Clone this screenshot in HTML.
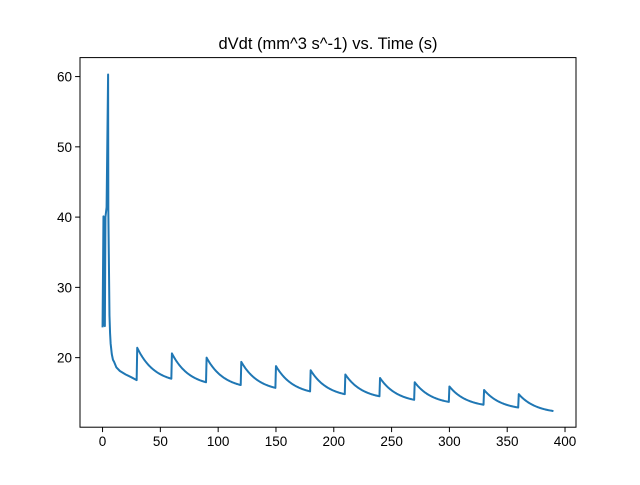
<!DOCTYPE html>
<html><head><meta charset="utf-8"><style>
body{margin:0;background:#fff}
svg text{font-family:"Liberation Sans","DejaVu Sans",sans-serif}
</style></head><body>
<svg id="c" width="640" height="480">
<rect x="0" y="0" width="640" height="480" fill="#fff"/>
<text x="328" y="49" text-anchor="middle" font-size="16.5">dVdt (mm^3 s^-1) vs. Time (s)</text>
<g id="plot"></g>
<rect x="80" y="57.6" width="496" height="369.6" fill="none" stroke="#000" stroke-width="1"/>
<g id="ax"></g>
</svg>
<script>
const earlyT=[0,0.8,1.2,2,2.5,3.5,4.8,5,6,6.5,7,8,9,10,12,15,20,25,29.5];
const earlyV=[24.3,40.1,24.6,24.5,40,41.4,60.3,41,26,23.5,22,20.5,19.7,19.4,18.6,18.1,17.6,17.2,16.8];
const cycleStart=[30,60,90,120,150,180,210,240,270,300,330,360];
const peakV=[21.4,20.6,20.0,19.4,18.8,18.2,17.6,17.1,16.5,15.9,15.4,14.8];
const troughV=[17.0,16.5,16.1,15.7,15.2,14.8,14.5,14.0,13.7,13.3,12.9,12.4];
const xTicks=[0,50,100,150,200,250,300,350,400];
const yTicks=[20,30,40,50,60];
const X0=80,X1=576,Y0=427.2,Y1=57.6,xmin=-19.5,xmax=409.5,ymin=10.1,ymax=62.7;
const sx=v=>X0+(v-xmin)/(xmax-xmin)*(X1-X0);
const sy=v=>Y0-(v-ymin)/(ymax-ymin)*(Y0-Y1);
const NS="http://www.w3.org/2000/svg";
const TAU=15;
let pts=[];
earlyT.forEach((t,i)=>pts.push([t,earlyV[i]]));
cycleStart.forEach((s,i)=>{
  const end=(i<cycleStart.length-1)?29.5:30;
  const pk=peakV[i],tr=troughV[i];
  const eEnd=Math.exp(-end/TAU);
  for(let d=0;d<=end+1e-9;d+=0.5){
    const f=(Math.exp(-d/TAU)-eEnd)/(1-eEnd);
    pts.push([s+d,tr+(pk-tr)*f]);
  }
});
const line=document.createElementNS(NS,"polyline");


line.setAttribute("points",pts.map(p=>sx(p[0]).toFixed(2)+","+sy(p[1]).toFixed(2)).join(" "));
line.setAttribute("fill","none");line.setAttribute("stroke","#1f77b4");line.setAttribute("stroke-width","2");
line.setAttribute("stroke-linejoin","round");
document.getElementById("plot").appendChild(line);
const ax=document.getElementById("ax");
xTicks.forEach(t=>{
  const x=sx(t);
  const l=document.createElementNS(NS,"line");
  
  
  l.setAttribute("x1",x);l.setAttribute("x2",x);l.setAttribute("y1",Y0);l.setAttribute("y2",Y0+4.9);l.setAttribute("stroke","#000");
  ax.appendChild(l);
  const tx=document.createElementNS(NS,"text");
  
  
  tx.setAttribute("x",x);tx.setAttribute("y",Y0+19);tx.setAttribute("text-anchor","middle");tx.setAttribute("font-size","13.5");
  tx.textContent=t;ax.appendChild(tx);
});
yTicks.forEach(t=>{
  const y=sy(t);
  const l=document.createElementNS(NS,"line");
  
  
  l.setAttribute("x1",X0-4.9);l.setAttribute("x2",X0);l.setAttribute("y1",y);l.setAttribute("y2",y);l.setAttribute("stroke","#000");
  ax.appendChild(l);
  const tx=document.createElementNS(NS,"text");
  
  
  tx.setAttribute("x",X0-8);tx.setAttribute("y",y+5);tx.setAttribute("text-anchor","end");tx.setAttribute("font-size","13.5");
  tx.textContent=t;ax.appendChild(tx);
});
</script>
</body></html>
